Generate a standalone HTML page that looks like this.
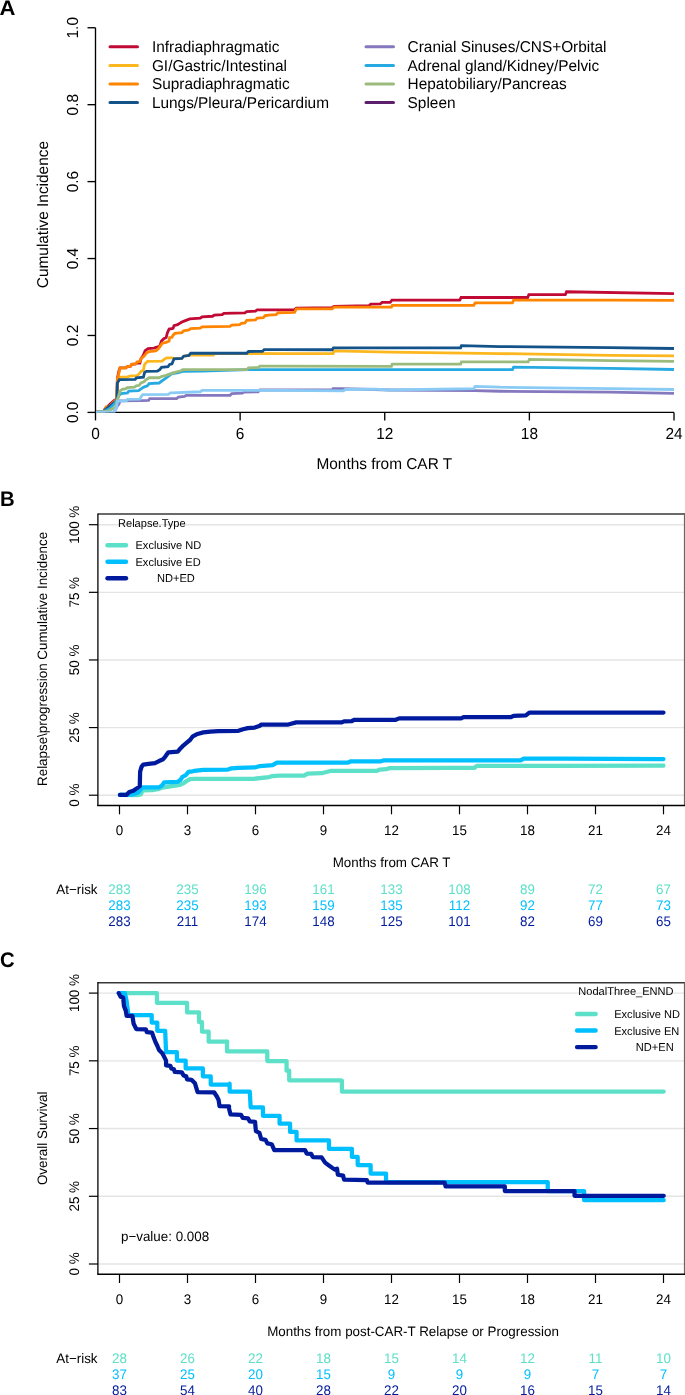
<!DOCTYPE html>
<html><head><meta charset="utf-8"><title>Figure</title>
<style>
html,body{margin:0;padding:0;background:#fff;}
svg{display:block;font-family:"Liberation Sans",sans-serif;text-rendering:geometricPrecision;}
</style></head><body>
<svg width="685" height="1395" viewBox="0 0 685 1395">
<rect width="685" height="1395" fill="#fff"/>
<text transform="translate(-0.5,14.8) scale(1.05,1)" font-size="21" text-anchor="start" fill="#000" font-weight="bold">A</text>
<line x1="95.5" y1="27.75" x2="95.5" y2="412.4" stroke="#000" stroke-width="1.35" stroke-linecap="butt"/>
<line x1="95.5" y1="412.4" x2="674" y2="412.4" stroke="#000" stroke-width="1.35" stroke-linecap="butt"/>
<line x1="87.5" y1="412.4" x2="95.5" y2="412.4" stroke="#000" stroke-width="1.35" stroke-linecap="butt"/>
<text transform="translate(77.8,412.4) rotate(-90) scale(0.9625,1)" font-size="16" text-anchor="middle" fill="#000" font-weight="normal">0.0</text>
<line x1="87.5" y1="335.47" x2="95.5" y2="335.47" stroke="#000" stroke-width="1.35" stroke-linecap="butt"/>
<text transform="translate(77.8,335.47) rotate(-90) scale(0.9625,1)" font-size="16" text-anchor="middle" fill="#000" font-weight="normal">0.2</text>
<line x1="87.5" y1="258.54" x2="95.5" y2="258.54" stroke="#000" stroke-width="1.35" stroke-linecap="butt"/>
<text transform="translate(77.8,258.54) rotate(-90) scale(0.9625,1)" font-size="16" text-anchor="middle" fill="#000" font-weight="normal">0.4</text>
<line x1="87.5" y1="181.61" x2="95.5" y2="181.61" stroke="#000" stroke-width="1.35" stroke-linecap="butt"/>
<text transform="translate(77.8,181.61) rotate(-90) scale(0.9625,1)" font-size="16" text-anchor="middle" fill="#000" font-weight="normal">0.6</text>
<line x1="87.5" y1="104.68" x2="95.5" y2="104.68" stroke="#000" stroke-width="1.35" stroke-linecap="butt"/>
<text transform="translate(77.8,104.68) rotate(-90) scale(0.9625,1)" font-size="16" text-anchor="middle" fill="#000" font-weight="normal">0.8</text>
<line x1="87.5" y1="27.75" x2="95.5" y2="27.75" stroke="#000" stroke-width="1.35" stroke-linecap="butt"/>
<text transform="translate(77.8,27.75) rotate(-90) scale(0.9625,1)" font-size="16" text-anchor="middle" fill="#000" font-weight="normal">1.0</text>
<line x1="95.5" y1="412.4" x2="95.5" y2="420.4" stroke="#000" stroke-width="1.35" stroke-linecap="butt"/>
<text transform="translate(95.5,438.8) scale(0.9625,1)" font-size="16" text-anchor="middle" fill="#000" font-weight="normal">0</text>
<line x1="240.125" y1="412.4" x2="240.125" y2="420.4" stroke="#000" stroke-width="1.35" stroke-linecap="butt"/>
<text transform="translate(240.125,438.8) scale(0.9625,1)" font-size="16" text-anchor="middle" fill="#000" font-weight="normal">6</text>
<line x1="384.75" y1="412.4" x2="384.75" y2="420.4" stroke="#000" stroke-width="1.35" stroke-linecap="butt"/>
<text transform="translate(384.75,438.8) scale(0.9625,1)" font-size="16" text-anchor="middle" fill="#000" font-weight="normal">12</text>
<line x1="529.375" y1="412.4" x2="529.375" y2="420.4" stroke="#000" stroke-width="1.35" stroke-linecap="butt"/>
<text transform="translate(529.375,438.8) scale(0.9625,1)" font-size="16" text-anchor="middle" fill="#000" font-weight="normal">18</text>
<line x1="674" y1="412.4" x2="674" y2="420.4" stroke="#000" stroke-width="1.35" stroke-linecap="butt"/>
<text transform="translate(674,438.8) scale(0.9625,1)" font-size="16" text-anchor="middle" fill="#000" font-weight="normal">24</text>
<text transform="translate(47.7,214.6) rotate(-90) scale(0.98,1)" font-size="15.71" text-anchor="middle" fill="#000" font-weight="normal">Cumulative Incidence</text>
<text transform="translate(384.3,468.8) scale(0.98,1)" font-size="15.71" text-anchor="middle" fill="#000" font-weight="normal">Months from CAR T</text>
<clipPath id="ca"><rect x="95.5" y="20" width="578.6" height="392.6"/></clipPath><g clip-path="url(#ca)">
<polyline points="96.09,412.26 103.09,412.26 104.85,409.34 107.18,407.01 110.69,403.5 114.77,400 116.88,399.42 117.34,378.39 119.09,370.22 120.03,367.88 125.87,367.88 127.04,366.72 130.54,366.13 131.71,364.38 135.8,363.8 136.96,362.98 139.88,362.98 141.05,358.54 143.39,355.04 145.14,350.6 148.06,348.61 153.9,348.03 156.82,347.09 159.74,346.28 161.49,341.02 163.82,338.69 166.16,337.52 167.33,332.85 169.08,329.11 172,328.76 173.14,328.18 174.02,325.55 177.52,324.67 181.9,322.05 185.4,320.64 189.78,318.89 200.29,318.19 202.05,316.79 212.56,316.26 214.31,315.04 222.19,314.69 223.95,313.29 244.97,312.94 246.72,311.53 255.48,311.18 257.23,309.78 280.01,309.78 294.53,309.78 296.28,308.03 332.19,307.68 333.95,306.28 368.98,305.75 370.74,304.18 380.37,303.83 382.12,302.42 390.01,302.42 390.51,302.07 391.91,300.15 459.71,300.15 461.11,297.52 500.01,297.52 527.67,297.52 528.89,294.54 565.33,294.54 566.56,291.74 673.97,293.67" fill="none" stroke="#C00A35" stroke-width="2.8" stroke-linecap="butt" stroke-linejoin="miter"/>
<polyline points="96.09,412.26 103.09,412.26 116.88,399.42 117.69,378.39 119.45,377.23 125.87,377.23 130.54,375.82 136.38,375.82 138.72,374.31 141.05,371.39 143.39,370.22 144.55,364.38 147.47,361.46 162.07,361.11 164.41,359.12 166.74,357.96 172,357.96 173.14,358.14 181.9,358.31 183.65,356.21 188.91,355.33 190.66,354.98 213.43,354.98 214.66,353.41 280.01,353.58 333.07,353.58 333.95,350.95 390.01,352.18 500.01,353.58 610.01,355.33 673.97,355.86" fill="none" stroke="#FDB71E" stroke-width="2.8" stroke-linecap="butt" stroke-linejoin="miter"/>
<polyline points="96.09,412.26 103.09,412.26 104.26,410.16 106.01,407.01 109.52,407.01 111.27,404.67 114.19,401.75 116.88,399.42 117.34,380.73 118.28,376.06 120.03,367.88 125.87,367.88 127.04,366.72 130.54,366.13 131.71,364.38 135.8,363.8 136.96,362.04 139.88,361.46 141.05,358.54 143.97,356.2 146.89,352.7 149.23,351.53 155.65,350.95 157.99,349.2 160.91,345.11 162.07,343.36 166.74,342.19 169.08,341.02 169.66,337.52 172,337.28 173.14,335.19 174.89,333.43 181.9,332.56 183.65,330.81 188.91,329.93 190.66,328.7 200.29,328.18 202.05,326.95 230.08,326.43 231.83,325.02 239.71,324.67 241.46,323.27 244.97,322.92 246.72,320.29 255.48,319.94 257.23,318.02 263.36,317.67 265.12,315.56 268.62,315.04 276.13,314.69 277.88,312.76 294.53,312.41 296.28,308.91 332.19,308.91 333.95,307.15 390.01,307.15 391.39,307.15 392.26,305.4 473.73,305.4 475.13,302.78 500.01,302.78 512.42,302.78 513.65,300.15 610.01,300.15 673.97,300.32" fill="none" stroke="#FF8400" stroke-width="2.8" stroke-linecap="butt" stroke-linejoin="miter"/>
<polyline points="96.09,412.26 103.09,412.26 104.85,409.93 116.88,400.58 117.34,383.07 119.45,379.56 135.21,379.33 136.38,377.81 143.39,377.23 144.55,372.55 146.31,371.39 157.4,371.04 159.74,369.64 161.49,367.3 167.91,366.72 169.66,364.38 172,363.8 174.02,358.84 181.9,358.31 183.65,356.21 188.91,355.33 190.66,353.23 246.72,353.23 248.47,351.48 262.49,351.3 264.24,349.55 280.01,349.55 332.19,349.73 333.42,347.8 390.01,347.8 460.59,347.8 461.46,345.7 500.01,346.57 610.01,347.62 673.97,348.5" fill="none" stroke="#13538A" stroke-width="2.8" stroke-linecap="butt" stroke-linejoin="miter"/>
<polyline points="96,412.32 114.1,412.32 116.44,407.53 117.84,405.2 119.01,404.03 119.94,400.88 140.38,400.64 148.55,400.29 149.72,398.66 171.91,398.66 176.64,398.61 178.4,397.03 184.53,396.5 186.28,395.28 230.08,395.28 231.83,393.52 242.34,393.17 244.09,392.12 258.11,391.77 259.86,390.02 280.01,390.02 332.19,390.02 333.07,388.62 342.7,388.62 390.01,390.02 474.6,390.72 500.01,391.25 610.01,392.12 673.97,393.35" fill="none" stroke="#8578BE" stroke-width="2.8" stroke-linecap="butt" stroke-linejoin="miter"/>
<polyline points="96,412.32 103.59,411.62 110.01,408.12 114.69,403.45 117.02,399.94 118.77,395.85 121.11,393.52 127.53,392.93 128.7,391.18 138.63,390.6 140.96,388.85 143.88,387.09 147.39,385.93 149.14,383.59 159.07,383.01 161.4,381.26 164.91,378.92 167.24,377.17 171.91,373.66 177.52,372.85 182.78,371.45 202.05,371.1 248.47,369.7 280.01,369.7 390.01,369.7 500.01,369.7 512.42,369.7 513.65,367.07 610.01,368.47 673.97,369.52" fill="none" stroke="#27AAE1" stroke-width="2.8" stroke-linecap="butt" stroke-linejoin="miter"/>
<polyline points="96,412.32 107.68,411.04 115.27,407.53 117.61,399.36 119.94,391.18 122.28,389.43 125.2,388.85 127.53,387.68 134.54,387.09 136.29,385.93 139.21,385.34 140.96,383.01 143.88,381.84 146.22,379.5 149.14,377.75 159.07,377.75 161.4,376.58 166.07,375.42 170.74,373.66 171.91,373.08 181.02,370.75 182.78,369.7 246.72,369.7 248.47,367.95 258.11,367.6 259.86,366.19 280.01,366.19 390.01,366.37 391.39,366.37 392.26,364.09 460.59,364.09 461.46,361.81 500.01,361.81 528.19,361.81 529.42,359.36 610.01,360.59 673.97,361.46" fill="none" stroke="#9BBB7D" stroke-width="2.8" stroke-linecap="butt" stroke-linejoin="miter"/>
<polyline points="96,412.32 114.1,411.97 116.44,407.53 117.61,401.11 126.36,400.88 127.53,399.36 139.8,399.12 140.96,397.02 142.72,394.69 168.41,394.45 170.16,392.93 171.91,392.93 200.29,391.77 202.05,390.37 280.01,390.37 343.58,390.9 345.33,389.5 375.12,389.15 390.01,390.02 473.73,388.62 475.13,386.34 500.01,387.22 610.01,388.62 673.97,389.5" fill="none" stroke="#8ACBF5" stroke-width="2.8" stroke-linecap="butt" stroke-linejoin="miter"/>
</g>
<line x1="110" y1="46.8" x2="137.5" y2="46.8" stroke="#C00A35" stroke-width="3" stroke-linecap="round"/>
<text transform="translate(151.9,52.2) scale(0.98,1)" font-size="15.71" text-anchor="start" fill="#000" font-weight="normal">Infradiaphragmatic</text>
<line x1="110" y1="65.4" x2="137.5" y2="65.4" stroke="#FDB71E" stroke-width="3" stroke-linecap="round"/>
<text transform="translate(151.9,70.8) scale(0.98,1)" font-size="15.71" text-anchor="start" fill="#000" font-weight="normal">GI/Gastric/Intestinal</text>
<line x1="110" y1="84" x2="137.5" y2="84" stroke="#FF8400" stroke-width="3" stroke-linecap="round"/>
<text transform="translate(151.9,89.4) scale(0.98,1)" font-size="15.71" text-anchor="start" fill="#000" font-weight="normal">Supradiaphragmatic</text>
<line x1="110" y1="102.6" x2="137.5" y2="102.6" stroke="#13538A" stroke-width="3" stroke-linecap="round"/>
<text transform="translate(151.9,108) scale(0.98,1)" font-size="15.71" text-anchor="start" fill="#000" font-weight="normal">Lungs/Pleura/Pericardium</text>
<line x1="366" y1="46.8" x2="393.5" y2="46.8" stroke="#8578BE" stroke-width="3" stroke-linecap="round"/>
<text transform="translate(407.6,52.2) scale(0.98,1)" font-size="15.71" text-anchor="start" fill="#000" font-weight="normal">Cranial Sinuses/CNS+Orbital</text>
<line x1="366" y1="65.4" x2="393.5" y2="65.4" stroke="#27AAE1" stroke-width="3" stroke-linecap="round"/>
<text transform="translate(407.6,70.8) scale(0.98,1)" font-size="15.71" text-anchor="start" fill="#000" font-weight="normal">Adrenal gland/Kidney/Pelvic</text>
<line x1="366" y1="84" x2="393.5" y2="84" stroke="#9BBB7D" stroke-width="3" stroke-linecap="round"/>
<text transform="translate(407.6,89.4) scale(0.98,1)" font-size="15.71" text-anchor="start" fill="#000" font-weight="normal">Hepatobiliary/Pancreas</text>
<line x1="366" y1="102.6" x2="393.5" y2="102.6" stroke="#5B1F6B" stroke-width="3" stroke-linecap="round"/>
<text transform="translate(407.6,108) scale(0.98,1)" font-size="15.71" text-anchor="start" fill="#000" font-weight="normal">Spleen</text>
<text transform="translate(0.05,506.2) scale(0.965,1)" font-size="21" text-anchor="start" fill="#000" font-weight="bold">B</text>
<line x1="97.9" y1="795.2" x2="685" y2="795.2" stroke="#E4E4E4" stroke-width="1.4" stroke-linecap="butt"/>
<line x1="97.9" y1="727.575" x2="685" y2="727.575" stroke="#E4E4E4" stroke-width="1.4" stroke-linecap="butt"/>
<line x1="97.9" y1="659.95" x2="685" y2="659.95" stroke="#E4E4E4" stroke-width="1.4" stroke-linecap="butt"/>
<line x1="97.9" y1="592.325" x2="685" y2="592.325" stroke="#E4E4E4" stroke-width="1.4" stroke-linecap="butt"/>
<line x1="97.9" y1="524.7" x2="685" y2="524.7" stroke="#E4E4E4" stroke-width="1.4" stroke-linecap="butt"/>
<line x1="97.9" y1="514" x2="685" y2="514" stroke="#383838" stroke-width="1.6" stroke-linecap="butt"/>
<line x1="684.6" y1="513.9" x2="684.6" y2="805.3" stroke="#666" stroke-width="1.4" stroke-linecap="butt"/>
<line x1="97.9" y1="513.4" x2="97.9" y2="805.9" stroke="#000" stroke-width="1.3" stroke-linecap="butt"/>
<line x1="97.3" y1="805.5" x2="685" y2="805.5" stroke="#000" stroke-width="1.4" stroke-linecap="butt"/>
<line x1="88.9" y1="795.2" x2="97.9" y2="795.2" stroke="#000" stroke-width="1.2" stroke-linecap="butt"/>
<text transform="translate(79,795.2) rotate(-90) scale(0.9625,1)" font-size="13.9" text-anchor="middle" fill="#000" font-weight="normal">0 %</text>
<line x1="88.9" y1="727.575" x2="97.9" y2="727.575" stroke="#000" stroke-width="1.2" stroke-linecap="butt"/>
<text transform="translate(79,727.575) rotate(-90) scale(0.9625,1)" font-size="13.9" text-anchor="middle" fill="#000" font-weight="normal">25 %</text>
<line x1="88.9" y1="659.95" x2="97.9" y2="659.95" stroke="#000" stroke-width="1.2" stroke-linecap="butt"/>
<text transform="translate(79,659.95) rotate(-90) scale(0.9625,1)" font-size="13.9" text-anchor="middle" fill="#000" font-weight="normal">50 %</text>
<line x1="88.9" y1="592.325" x2="97.9" y2="592.325" stroke="#000" stroke-width="1.2" stroke-linecap="butt"/>
<text transform="translate(79,592.325) rotate(-90) scale(0.9625,1)" font-size="13.9" text-anchor="middle" fill="#000" font-weight="normal">75 %</text>
<line x1="88.9" y1="524.7" x2="97.9" y2="524.7" stroke="#000" stroke-width="1.2" stroke-linecap="butt"/>
<text transform="translate(79,524.7) rotate(-90) scale(0.9625,1)" font-size="13.9" text-anchor="middle" fill="#000" font-weight="normal">100 %</text>
<line x1="119.5" y1="805.3" x2="119.5" y2="814.3" stroke="#000" stroke-width="1.2" stroke-linecap="butt"/>
<text transform="translate(119.5,835.3) scale(0.9625,1)" font-size="13.9" text-anchor="middle" fill="#000" font-weight="normal">0</text>
<line x1="187.5" y1="805.3" x2="187.5" y2="814.3" stroke="#000" stroke-width="1.2" stroke-linecap="butt"/>
<text transform="translate(187.5,835.3) scale(0.9625,1)" font-size="13.9" text-anchor="middle" fill="#000" font-weight="normal">3</text>
<line x1="255.5" y1="805.3" x2="255.5" y2="814.3" stroke="#000" stroke-width="1.2" stroke-linecap="butt"/>
<text transform="translate(255.5,835.3) scale(0.9625,1)" font-size="13.9" text-anchor="middle" fill="#000" font-weight="normal">6</text>
<line x1="323.5" y1="805.3" x2="323.5" y2="814.3" stroke="#000" stroke-width="1.2" stroke-linecap="butt"/>
<text transform="translate(323.5,835.3) scale(0.9625,1)" font-size="13.9" text-anchor="middle" fill="#000" font-weight="normal">9</text>
<line x1="391.5" y1="805.3" x2="391.5" y2="814.3" stroke="#000" stroke-width="1.2" stroke-linecap="butt"/>
<text transform="translate(391.5,835.3) scale(0.9625,1)" font-size="13.9" text-anchor="middle" fill="#000" font-weight="normal">12</text>
<line x1="459.5" y1="805.3" x2="459.5" y2="814.3" stroke="#000" stroke-width="1.2" stroke-linecap="butt"/>
<text transform="translate(459.5,835.3) scale(0.9625,1)" font-size="13.9" text-anchor="middle" fill="#000" font-weight="normal">15</text>
<line x1="527.5" y1="805.3" x2="527.5" y2="814.3" stroke="#000" stroke-width="1.2" stroke-linecap="butt"/>
<text transform="translate(527.5,835.3) scale(0.9625,1)" font-size="13.9" text-anchor="middle" fill="#000" font-weight="normal">18</text>
<line x1="595.5" y1="805.3" x2="595.5" y2="814.3" stroke="#000" stroke-width="1.2" stroke-linecap="butt"/>
<text transform="translate(595.5,835.3) scale(0.9625,1)" font-size="13.9" text-anchor="middle" fill="#000" font-weight="normal">21</text>
<line x1="663.5" y1="805.3" x2="663.5" y2="814.3" stroke="#000" stroke-width="1.2" stroke-linecap="butt"/>
<text transform="translate(663.5,835.3) scale(0.9625,1)" font-size="13.9" text-anchor="middle" fill="#000" font-weight="normal">24</text>
<text transform="translate(46.5,658.9) rotate(-90) scale(0.98,1)" font-size="13.65" text-anchor="middle" fill="#000" font-weight="normal">Relapse\progression Cumulative Incidence</text>
<text transform="translate(391.6,866.8) scale(0.98,1)" font-size="13.65" text-anchor="middle" fill="#000" font-weight="normal">Months from CAR T</text>
<polyline points="119.93,794.89 138.03,795.01 140.95,794.31 142.12,791.39 143.87,790.45 152.04,790.22 159.05,788.82 163.72,787.3 171.9,786.13 180.07,784.96 183.58,783.21 185.91,781.46 190,779.12 194.01,778.79 253.58,778.79 269.05,777.08 271.68,776.21 279.57,775.68 304.09,775.68 307.6,773.58 321.61,773.23 330.37,770.95 340.01,770.95 376.43,770.95 379.93,769.55 386.06,769.2 389.57,768.15 450.01,767.97 474.16,767.97 476.79,765.87 560.01,765.87 663.46,765.7" fill="none" stroke="#5DE0C8" stroke-width="4.25" stroke-linecap="round" stroke-linejoin="round"/>
<polyline points="119.93,794.89 126.35,794.89 133.36,794.31 138.03,792.55 140.95,789.05 142.7,787.3 159.05,787.3 161.97,785.55 164.31,782.28 177.74,781.81 180.66,779.71 182.41,776.79 185.91,775.04 188.25,772.12 190,771.53 191.68,771.55 194.01,770.96 203.36,769.8 227.88,769.56 231.39,768.39 238.39,767.81 254.74,767.46 260,766.06 272.56,765.17 276.94,762.72 340.01,762.72 347.52,762.72 351.02,761.32 380.81,761.32 383.43,760.44 450.01,760.44 520.59,760.44 523.74,758.69 560.01,758.69 663.46,759.04" fill="none" stroke="#00BFFF" stroke-width="4.25" stroke-linecap="round" stroke-linejoin="round"/>
<polyline points="119.93,794.89 126.35,794.89 129.27,791.97 133.36,790.8 137.45,787.88 139.78,786.13 140.13,771.53 141.53,766.86 143.28,764.53 148.54,763.94 154.96,763.12 159.05,761.02 163.14,759.27 165.47,756.35 168.39,752.26 177.74,751.68 180.66,748.18 183.58,745.26 187.08,742.34 190,740 192.85,736.28 197.52,733.94 203.36,732.42 210.36,731.61 218.54,731.02 238.39,730.79 243.07,729.27 247.74,728.1 254.74,727.52 260,725.77 261.17,724.53 288.33,724.53 296.21,722.42 340.01,722.42 341.39,722.42 344.02,721.37 351.9,721.02 354.53,719.8 395.7,719.8 399.2,718.4 450.01,718.4 461.02,718.4 463.65,717.17 510.95,717.17 513.58,715.77 525.84,715.42 529.35,712.61 560.01,712.61 663.46,712.61" fill="none" stroke="#001A9E" stroke-width="4.25" stroke-linecap="round" stroke-linejoin="round"/>
<text transform="translate(56.3,894.1) scale(0.98,1)" font-size="13.65" text-anchor="start" fill="#000" font-weight="normal">At−risk</text>
<text transform="translate(119.5,894.1) scale(0.9625,1)" font-size="13.9" text-anchor="middle" fill="#5DE0C8" font-weight="normal">283</text>
<text transform="translate(187.5,894.1) scale(0.9625,1)" font-size="13.9" text-anchor="middle" fill="#5DE0C8" font-weight="normal">235</text>
<text transform="translate(255.5,894.1) scale(0.9625,1)" font-size="13.9" text-anchor="middle" fill="#5DE0C8" font-weight="normal">196</text>
<text transform="translate(323.5,894.1) scale(0.9625,1)" font-size="13.9" text-anchor="middle" fill="#5DE0C8" font-weight="normal">161</text>
<text transform="translate(391.5,894.1) scale(0.9625,1)" font-size="13.9" text-anchor="middle" fill="#5DE0C8" font-weight="normal">133</text>
<text transform="translate(459.5,894.1) scale(0.9625,1)" font-size="13.9" text-anchor="middle" fill="#5DE0C8" font-weight="normal">108</text>
<text transform="translate(527.5,894.1) scale(0.9625,1)" font-size="13.9" text-anchor="middle" fill="#5DE0C8" font-weight="normal">89</text>
<text transform="translate(595.5,894.1) scale(0.9625,1)" font-size="13.9" text-anchor="middle" fill="#5DE0C8" font-weight="normal">72</text>
<text transform="translate(663.5,894.1) scale(0.9625,1)" font-size="13.9" text-anchor="middle" fill="#5DE0C8" font-weight="normal">67</text>
<text transform="translate(119.5,909.8) scale(0.9625,1)" font-size="13.9" text-anchor="middle" fill="#00BFFF" font-weight="normal">283</text>
<text transform="translate(187.5,909.8) scale(0.9625,1)" font-size="13.9" text-anchor="middle" fill="#00BFFF" font-weight="normal">235</text>
<text transform="translate(255.5,909.8) scale(0.9625,1)" font-size="13.9" text-anchor="middle" fill="#00BFFF" font-weight="normal">193</text>
<text transform="translate(323.5,909.8) scale(0.9625,1)" font-size="13.9" text-anchor="middle" fill="#00BFFF" font-weight="normal">159</text>
<text transform="translate(391.5,909.8) scale(0.9625,1)" font-size="13.9" text-anchor="middle" fill="#00BFFF" font-weight="normal">135</text>
<text transform="translate(459.5,909.8) scale(0.9625,1)" font-size="13.9" text-anchor="middle" fill="#00BFFF" font-weight="normal">112</text>
<text transform="translate(527.5,909.8) scale(0.9625,1)" font-size="13.9" text-anchor="middle" fill="#00BFFF" font-weight="normal">92</text>
<text transform="translate(595.5,909.8) scale(0.9625,1)" font-size="13.9" text-anchor="middle" fill="#00BFFF" font-weight="normal">77</text>
<text transform="translate(663.5,909.8) scale(0.9625,1)" font-size="13.9" text-anchor="middle" fill="#00BFFF" font-weight="normal">73</text>
<text transform="translate(119.5,926.1) scale(0.9625,1)" font-size="13.9" text-anchor="middle" fill="#001A9E" font-weight="normal">283</text>
<text transform="translate(187.5,926.1) scale(0.9625,1)" font-size="13.9" text-anchor="middle" fill="#001A9E" font-weight="normal">211</text>
<text transform="translate(255.5,926.1) scale(0.9625,1)" font-size="13.9" text-anchor="middle" fill="#001A9E" font-weight="normal">174</text>
<text transform="translate(323.5,926.1) scale(0.9625,1)" font-size="13.9" text-anchor="middle" fill="#001A9E" font-weight="normal">148</text>
<text transform="translate(391.5,926.1) scale(0.9625,1)" font-size="13.9" text-anchor="middle" fill="#001A9E" font-weight="normal">125</text>
<text transform="translate(459.5,926.1) scale(0.9625,1)" font-size="13.9" text-anchor="middle" fill="#001A9E" font-weight="normal">101</text>
<text transform="translate(527.5,926.1) scale(0.9625,1)" font-size="13.9" text-anchor="middle" fill="#001A9E" font-weight="normal">82</text>
<text transform="translate(595.5,926.1) scale(0.9625,1)" font-size="13.9" text-anchor="middle" fill="#001A9E" font-weight="normal">69</text>
<text transform="translate(663.5,926.1) scale(0.9625,1)" font-size="13.9" text-anchor="middle" fill="#001A9E" font-weight="normal">65</text>
<text transform="translate(118,527) scale(0.98,1)" font-size="11.29" text-anchor="start" fill="#000" font-weight="normal">Relapse.Type</text>
<line x1="107.5" y1="545.2" x2="126" y2="545.2" stroke="#5DE0C8" stroke-width="4.4" stroke-linecap="round"/>
<text transform="translate(135.5,549.2) scale(0.98,1)" font-size="11.29" text-anchor="start" fill="#000" font-weight="normal">Exclusive ND</text>
<line x1="107.5" y1="561.75" x2="126" y2="561.75" stroke="#00BFFF" stroke-width="4.4" stroke-linecap="round"/>
<text transform="translate(135.5,565.75) scale(0.98,1)" font-size="11.29" text-anchor="start" fill="#000" font-weight="normal">Exclusive ED</text>
<line x1="107.5" y1="578.3" x2="126" y2="578.3" stroke="#001A9E" stroke-width="4.4" stroke-linecap="round"/>
<text transform="translate(157,582.3) scale(0.9625,1)" font-size="11.5" text-anchor="start" fill="#000" font-weight="normal">ND+ED</text>
<text transform="translate(0.05,966.9) scale(0.965,1)" font-size="21" text-anchor="start" fill="#000" font-weight="bold">C</text>
<line x1="97.9" y1="1264" x2="685" y2="1264" stroke="#E4E4E4" stroke-width="1.4" stroke-linecap="butt"/>
<line x1="97.9" y1="1196.28" x2="685" y2="1196.28" stroke="#E4E4E4" stroke-width="1.4" stroke-linecap="butt"/>
<line x1="97.9" y1="1128.55" x2="685" y2="1128.55" stroke="#E4E4E4" stroke-width="1.4" stroke-linecap="butt"/>
<line x1="97.9" y1="1060.83" x2="685" y2="1060.83" stroke="#E4E4E4" stroke-width="1.4" stroke-linecap="butt"/>
<line x1="97.9" y1="993.1" x2="685" y2="993.1" stroke="#E4E4E4" stroke-width="1.4" stroke-linecap="butt"/>
<line x1="97.9" y1="982.7" x2="685" y2="982.7" stroke="#383838" stroke-width="1.6" stroke-linecap="butt"/>
<line x1="684.6" y1="982.6" x2="684.6" y2="1274" stroke="#666" stroke-width="1.4" stroke-linecap="butt"/>
<line x1="97.9" y1="982.1" x2="97.9" y2="1274.6" stroke="#000" stroke-width="1.3" stroke-linecap="butt"/>
<line x1="97.3" y1="1274.2" x2="685" y2="1274.2" stroke="#000" stroke-width="1.4" stroke-linecap="butt"/>
<line x1="88.9" y1="1264" x2="97.9" y2="1264" stroke="#000" stroke-width="1.2" stroke-linecap="butt"/>
<text transform="translate(79,1264) rotate(-90) scale(0.9625,1)" font-size="13.9" text-anchor="middle" fill="#000" font-weight="normal">0 %</text>
<line x1="88.9" y1="1196.28" x2="97.9" y2="1196.28" stroke="#000" stroke-width="1.2" stroke-linecap="butt"/>
<text transform="translate(79,1196.28) rotate(-90) scale(0.9625,1)" font-size="13.9" text-anchor="middle" fill="#000" font-weight="normal">25 %</text>
<line x1="88.9" y1="1128.55" x2="97.9" y2="1128.55" stroke="#000" stroke-width="1.2" stroke-linecap="butt"/>
<text transform="translate(79,1128.55) rotate(-90) scale(0.9625,1)" font-size="13.9" text-anchor="middle" fill="#000" font-weight="normal">50 %</text>
<line x1="88.9" y1="1060.83" x2="97.9" y2="1060.83" stroke="#000" stroke-width="1.2" stroke-linecap="butt"/>
<text transform="translate(79,1060.83) rotate(-90) scale(0.9625,1)" font-size="13.9" text-anchor="middle" fill="#000" font-weight="normal">75 %</text>
<line x1="88.9" y1="993.1" x2="97.9" y2="993.1" stroke="#000" stroke-width="1.2" stroke-linecap="butt"/>
<text transform="translate(79,993.1) rotate(-90) scale(0.9625,1)" font-size="13.9" text-anchor="middle" fill="#000" font-weight="normal">100 %</text>
<line x1="119.5" y1="1274" x2="119.5" y2="1283" stroke="#000" stroke-width="1.2" stroke-linecap="butt"/>
<text transform="translate(119.5,1304) scale(0.9625,1)" font-size="13.9" text-anchor="middle" fill="#000" font-weight="normal">0</text>
<line x1="187.5" y1="1274" x2="187.5" y2="1283" stroke="#000" stroke-width="1.2" stroke-linecap="butt"/>
<text transform="translate(187.5,1304) scale(0.9625,1)" font-size="13.9" text-anchor="middle" fill="#000" font-weight="normal">3</text>
<line x1="255.5" y1="1274" x2="255.5" y2="1283" stroke="#000" stroke-width="1.2" stroke-linecap="butt"/>
<text transform="translate(255.5,1304) scale(0.9625,1)" font-size="13.9" text-anchor="middle" fill="#000" font-weight="normal">6</text>
<line x1="323.5" y1="1274" x2="323.5" y2="1283" stroke="#000" stroke-width="1.2" stroke-linecap="butt"/>
<text transform="translate(323.5,1304) scale(0.9625,1)" font-size="13.9" text-anchor="middle" fill="#000" font-weight="normal">9</text>
<line x1="391.5" y1="1274" x2="391.5" y2="1283" stroke="#000" stroke-width="1.2" stroke-linecap="butt"/>
<text transform="translate(391.5,1304) scale(0.9625,1)" font-size="13.9" text-anchor="middle" fill="#000" font-weight="normal">12</text>
<line x1="459.5" y1="1274" x2="459.5" y2="1283" stroke="#000" stroke-width="1.2" stroke-linecap="butt"/>
<text transform="translate(459.5,1304) scale(0.9625,1)" font-size="13.9" text-anchor="middle" fill="#000" font-weight="normal">15</text>
<line x1="527.5" y1="1274" x2="527.5" y2="1283" stroke="#000" stroke-width="1.2" stroke-linecap="butt"/>
<text transform="translate(527.5,1304) scale(0.9625,1)" font-size="13.9" text-anchor="middle" fill="#000" font-weight="normal">18</text>
<line x1="595.5" y1="1274" x2="595.5" y2="1283" stroke="#000" stroke-width="1.2" stroke-linecap="butt"/>
<text transform="translate(595.5,1304) scale(0.9625,1)" font-size="13.9" text-anchor="middle" fill="#000" font-weight="normal">21</text>
<line x1="663.5" y1="1274" x2="663.5" y2="1283" stroke="#000" stroke-width="1.2" stroke-linecap="butt"/>
<text transform="translate(663.5,1304) scale(0.9625,1)" font-size="13.9" text-anchor="middle" fill="#000" font-weight="normal">24</text>
<text transform="translate(46.5,1138.3) rotate(-90) scale(0.98,1)" font-size="13.65" text-anchor="middle" fill="#000" font-weight="normal">Overall Survival</text>
<text transform="translate(413,1335.5) scale(0.98,1)" font-size="13.65" text-anchor="middle" fill="#000" font-weight="normal">Months from post-CAR-T Relapse or Progression</text>
<polyline points="118.76,993.14 156.95,993.14 156.95,1002.78 187.08,1002.78 187.08,1012.41 199,1012.41 199,1022.05 201.98,1022.05 201.98,1031.68 208.63,1031.68 208.63,1041.67 227.38,1041.67 227.01,1041.4 227.01,1051.39 267.3,1051.39 267.3,1061.02 286.57,1061.02 286.57,1070.66 289.2,1070.66 289.2,1080.29 340.01,1080.29 341.91,1080.5 341.91,1091.53 450.01,1091.53 663.7,1091.53" fill="none" stroke="#5DE0C8" stroke-width="4.25" stroke-linecap="round" stroke-linejoin="round"/>
<polyline points="118.76,993.14 124.89,993.14 126.64,1001.02 128.4,1015.04 151.7,1015.04 151.7,1022.57 157.3,1022.57 157.3,1030.81 165.19,1030.81 166.06,1052.18 176.92,1052.18 176.92,1060.59 185.68,1060.59 185.68,1068.47 202.85,1068.47 202.85,1076.36 210.74,1076.36 210.74,1084.59 229.13,1084.59 229.64,1083.8 229.64,1091.68 249.78,1091.68 250.66,1107.45 262.92,1107.45 262.92,1115.86 279.57,1115.86 279.57,1123.74 290.08,1123.74 290.08,1131.98 296.56,1131.98 296.56,1140.39 328.97,1140.39 328.97,1148.97 340.01,1148.97 351.9,1148.82 351.9,1156.88 357.68,1156.88 357.68,1165.12 370.64,1165.12 370.64,1173.52 386.06,1173.52 386.06,1182.11 450.01,1182.11 547.74,1182.11 547.74,1191.04 560.01,1191.04 584.16,1191.04 584.16,1200.15 663.7,1200.15" fill="none" stroke="#00BFFF" stroke-width="4.25" stroke-linecap="round" stroke-linejoin="round"/>
<polyline points="118.76,993.14 120.51,996.64 123.14,997.52 124.02,1006.28 125.77,1010.66 126.64,1015.91 132.42,1015.91 133.65,1023.8 136.28,1029.05 145.91,1029.4 146.79,1032.03 152.05,1032.56 153.8,1037.81 155.55,1042.19 157.3,1045.7 159.05,1050.08 162.56,1053.58 166.06,1060.59 166.06,1065.32 170.44,1065.84 171.32,1068.47 173.95,1069.35 174.82,1071.98 181.83,1072.33 183.58,1075.48 186.21,1076.36 187.08,1079.33 191.46,1079.86 194.97,1083.36 197.6,1092.12 214.24,1092.47 216.87,1096.5 218.62,1100.01 219.5,1106.14 229.13,1106.49 228.76,1107.45 230.51,1114.46 241.02,1114.81 242.78,1117.96 248.03,1118.31 249.78,1121.46 255.04,1121.81 255.91,1131.1 259.42,1132.85 261.17,1138.98 265.55,1139.86 267.3,1143.36 271.68,1144.24 274.31,1150.02 304.97,1150.02 306.72,1153.52 311.1,1153.88 312.85,1157.03 321.61,1157.38 325.12,1162.63 328.62,1165.26 334.75,1169.64 337.01,1168.62 337.88,1174.75 343.14,1175.63 344.02,1179.66 366.79,1180.01 367.67,1182.63 444.75,1182.63 445.63,1186.49 450.01,1186.49 504.82,1186.49 504.82,1191.04 560.01,1191.04 574.53,1191.04 574.53,1195.77 663.7,1195.77" fill="none" stroke="#001A9E" stroke-width="4.25" stroke-linecap="round" stroke-linejoin="round"/>
<text transform="translate(56.3,1362.8) scale(0.98,1)" font-size="13.65" text-anchor="start" fill="#000" font-weight="normal">At−risk</text>
<text transform="translate(119.5,1362.8) scale(0.9625,1)" font-size="13.9" text-anchor="middle" fill="#5DE0C8" font-weight="normal">28</text>
<text transform="translate(187.5,1362.8) scale(0.9625,1)" font-size="13.9" text-anchor="middle" fill="#5DE0C8" font-weight="normal">26</text>
<text transform="translate(255.5,1362.8) scale(0.9625,1)" font-size="13.9" text-anchor="middle" fill="#5DE0C8" font-weight="normal">22</text>
<text transform="translate(323.5,1362.8) scale(0.9625,1)" font-size="13.9" text-anchor="middle" fill="#5DE0C8" font-weight="normal">18</text>
<text transform="translate(391.5,1362.8) scale(0.9625,1)" font-size="13.9" text-anchor="middle" fill="#5DE0C8" font-weight="normal">15</text>
<text transform="translate(459.5,1362.8) scale(0.9625,1)" font-size="13.9" text-anchor="middle" fill="#5DE0C8" font-weight="normal">14</text>
<text transform="translate(527.5,1362.8) scale(0.9625,1)" font-size="13.9" text-anchor="middle" fill="#5DE0C8" font-weight="normal">12</text>
<text transform="translate(595.5,1362.8) scale(0.9625,1)" font-size="13.9" text-anchor="middle" fill="#5DE0C8" font-weight="normal">11</text>
<text transform="translate(663.5,1362.8) scale(0.9625,1)" font-size="13.9" text-anchor="middle" fill="#5DE0C8" font-weight="normal">10</text>
<text transform="translate(119.5,1378.5) scale(0.9625,1)" font-size="13.9" text-anchor="middle" fill="#00BFFF" font-weight="normal">37</text>
<text transform="translate(187.5,1378.5) scale(0.9625,1)" font-size="13.9" text-anchor="middle" fill="#00BFFF" font-weight="normal">25</text>
<text transform="translate(255.5,1378.5) scale(0.9625,1)" font-size="13.9" text-anchor="middle" fill="#00BFFF" font-weight="normal">20</text>
<text transform="translate(323.5,1378.5) scale(0.9625,1)" font-size="13.9" text-anchor="middle" fill="#00BFFF" font-weight="normal">15</text>
<text transform="translate(391.5,1378.5) scale(0.9625,1)" font-size="13.9" text-anchor="middle" fill="#00BFFF" font-weight="normal">9</text>
<text transform="translate(459.5,1378.5) scale(0.9625,1)" font-size="13.9" text-anchor="middle" fill="#00BFFF" font-weight="normal">9</text>
<text transform="translate(527.5,1378.5) scale(0.9625,1)" font-size="13.9" text-anchor="middle" fill="#00BFFF" font-weight="normal">9</text>
<text transform="translate(595.5,1378.5) scale(0.9625,1)" font-size="13.9" text-anchor="middle" fill="#00BFFF" font-weight="normal">7</text>
<text transform="translate(663.5,1378.5) scale(0.9625,1)" font-size="13.9" text-anchor="middle" fill="#00BFFF" font-weight="normal">7</text>
<text transform="translate(119.5,1394.8) scale(0.9625,1)" font-size="13.9" text-anchor="middle" fill="#001A9E" font-weight="normal">83</text>
<text transform="translate(187.5,1394.8) scale(0.9625,1)" font-size="13.9" text-anchor="middle" fill="#001A9E" font-weight="normal">54</text>
<text transform="translate(255.5,1394.8) scale(0.9625,1)" font-size="13.9" text-anchor="middle" fill="#001A9E" font-weight="normal">40</text>
<text transform="translate(323.5,1394.8) scale(0.9625,1)" font-size="13.9" text-anchor="middle" fill="#001A9E" font-weight="normal">28</text>
<text transform="translate(391.5,1394.8) scale(0.9625,1)" font-size="13.9" text-anchor="middle" fill="#001A9E" font-weight="normal">22</text>
<text transform="translate(459.5,1394.8) scale(0.9625,1)" font-size="13.9" text-anchor="middle" fill="#001A9E" font-weight="normal">20</text>
<text transform="translate(527.5,1394.8) scale(0.9625,1)" font-size="13.9" text-anchor="middle" fill="#001A9E" font-weight="normal">16</text>
<text transform="translate(595.5,1394.8) scale(0.9625,1)" font-size="13.9" text-anchor="middle" fill="#001A9E" font-weight="normal">15</text>
<text transform="translate(663.5,1394.8) scale(0.9625,1)" font-size="13.9" text-anchor="middle" fill="#001A9E" font-weight="normal">14</text>
<text transform="translate(578.3,995.2) scale(0.98,1)" font-size="11.29" text-anchor="start" fill="#000" font-weight="normal">NodalThree_ENND</text>
<line x1="577.1" y1="1014" x2="595.6" y2="1014" stroke="#5DE0C8" stroke-width="4.4" stroke-linecap="round"/>
<text transform="translate(614.2,1018) scale(0.98,1)" font-size="11.29" text-anchor="start" fill="#000" font-weight="normal">Exclusive ND</text>
<line x1="577.1" y1="1030.55" x2="595.6" y2="1030.55" stroke="#00BFFF" stroke-width="4.4" stroke-linecap="round"/>
<text transform="translate(614.2,1034.55) scale(0.98,1)" font-size="11.29" text-anchor="start" fill="#000" font-weight="normal">Exclusive EN</text>
<line x1="577.1" y1="1047.1" x2="595.6" y2="1047.1" stroke="#001A9E" stroke-width="4.4" stroke-linecap="round"/>
<text transform="translate(635.8,1051.1) scale(0.9625,1)" font-size="11.5" text-anchor="start" fill="#000" font-weight="normal">ND+EN</text>
<text transform="translate(121,1240.5) scale(0.98,1)" font-size="13.65" text-anchor="start" fill="#000" font-weight="normal">p−value: 0.008</text>
</svg>
</body></html>
